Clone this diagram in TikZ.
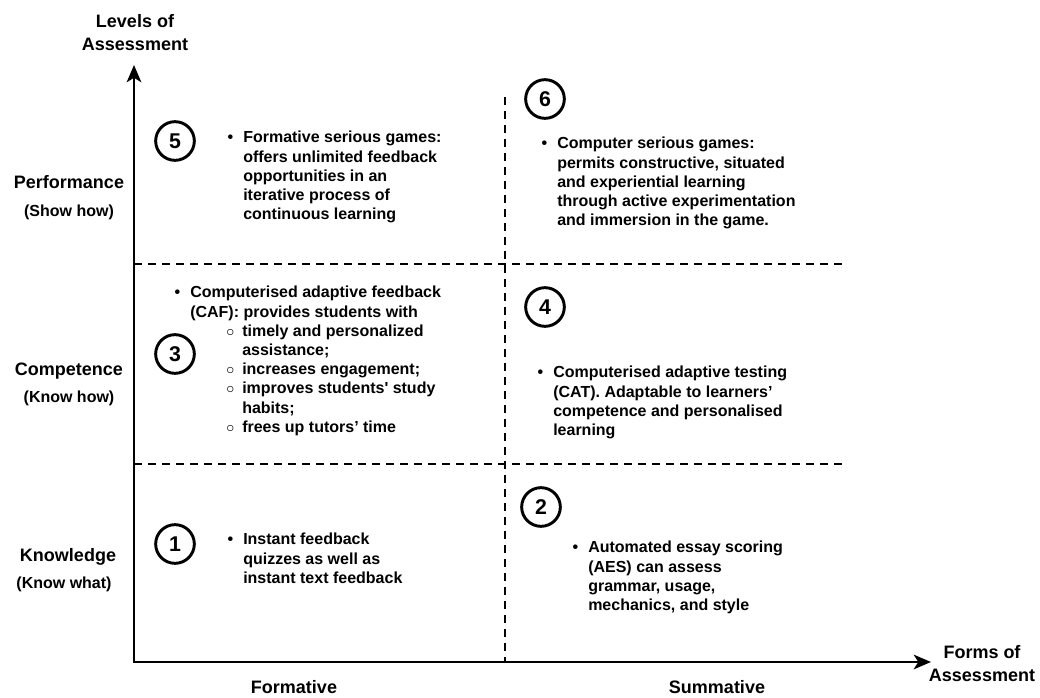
\documentclass[tikz,border=0pt]{standalone}
\usepackage{fontspec}
\setmainfont{Liberation Sans}
\usetikzlibrary{arrows.meta}

\begin{document}
\begin{tikzpicture}[x=0.75pt, y=-0.75pt,
    axis/.style={line width=1.5pt, {Stealth[length=13pt,width=11pt,inset=3.5pt]}-{Stealth[length=13pt,width=11pt,inset=3.5pt]}},
    split/.style={line width=1.5pt, dash pattern=on 6pt off 4.5pt},
    num/.style={circle, draw, line width=2.2pt, minimum size=29pt, inner sep=0pt,
                font=\fontsize{16}{16}\selectfont\bfseries},
    title/.style={font=\fontsize{13.5}{17.25}\selectfont\bfseries, align=center,
                  inner sep=0pt},
    level/.style={font=\fontsize{13.5}{17.25}\selectfont\bfseries,
                  inner sep=0pt, text height=1.5ex, text depth=.25ex},
    hint/.style={font=\fontsize{12}{14.4}\selectfont\bfseries, inner sep=0pt,
                 text height=1.5ex, text depth=.25ex},
    item/.style={font=\fontsize{12}{14.4}\selectfont\bfseries, align=left,
                 anchor=north west, inner sep=0pt}]
  \useasboundingbox (0,0) rectangle (1040,698);

  % axes and quadrant lines
  \coordinate (origin) at (134,662);
  \coordinate (ytip) at (134,65);
  \coordinate (xtip) at (931,662);
  \draw[axis] (ytip) -- (origin) -- (xtip);
  \coordinate (midtop) at (505,97);
  \coordinate (midbot) at (505,662);
  \coordinate (lowleft) at (134,464);
  \coordinate (lowright) at (845,464);
  \coordinate (highleft) at (134,264);
  \coordinate (highright) at (845,264);
  \draw[split] (midtop) -- (midbot);
  \draw[split] (lowleft) -- (lowright);
  \draw[split] (highleft) -- (highright);

  % axis titles
  \node[title] (levels) at (135,33) {Levels of\\Assessment};
  \node[title] (forms) at (982,664) {Forms of\\Assessment};
  \node[level] (formative) at (294,689) {Formative};
  \node[level] (summative) at (717,689) {Summative};

  % levels
  \node[level] (perf) at (69,184) {Performance};
  \node[hint] (showhow) at (69,212) {(Show how)};
  \node[level] (comp) at (69,371) {Competence};
  \node[hint] (knowhow) at (69,398) {(Know how)};
  \node[level] (know) at (68,557) {Knowledge};
  \node[hint] (knowwhat) at (64,584) {(Know what)};

  % numbered quadrants
  \node[num] (n1) at (175,544) {1};
  \node[num] (n2) at (541,507) {2};
  \node[num] (n3) at (175,354) {3};
  \node[num] (n4) at (545,307) {4};
  \node[num] (n5) at (175,141) {5};
  \node[num] (n6) at (545,99) {6};

  \node[item] (quiz) at (243,533) {\llap{\textbullet\hspace{7.5pt}}Instant feedback\\
    quizzes as well as\\instant text feedback};
  \node[item] (aes) at (588,541) {\llap{\textbullet\hspace{7.5pt}}Automated essay scoring\\
    (AES) can assess\\grammar, usage,\\mechanics, and style};
  \node[item] (caf) at (190,286) {\llap{\textbullet\hspace{7.5pt}}Computerised adaptive feedback\\
    (CAF): provides students with\\
    \hspace*{39pt}\llap{$\circ$\hspace{6pt}}timely and personalized\\
    \hspace*{39pt}assistance;\\
    \hspace*{39pt}\llap{$\circ$\hspace{6pt}}increases engagement;\\
    \hspace*{39pt}\llap{$\circ$\hspace{6pt}}improves students\textquotesingle{} study\\
    \hspace*{39pt}habits;\\
    \hspace*{39pt}\llap{$\circ$\hspace{6pt}}frees up tutors' time};
  \node[item] (cat) at (553,366) {\llap{\textbullet\hspace{7.5pt}}Computerised adaptive testing\\
    (CAT). Adaptable to learners'\\competence and personalised\\learning};
  \node[item] (fgames) at (243,131) {\llap{\textbullet\hspace{7.5pt}}Formative serious games:\\
    offers unlimited feedback\\opportunities in an\\iterative process of\\continuous learning};
  \node[item] (cgames) at (557,137) {\llap{\textbullet\hspace{7.5pt}}Computer serious games:\\
    permits constructive, situated\\and experiential learning\\
    through active experimentation\\and immersion in the game.};
\end{tikzpicture}
\end{document}
